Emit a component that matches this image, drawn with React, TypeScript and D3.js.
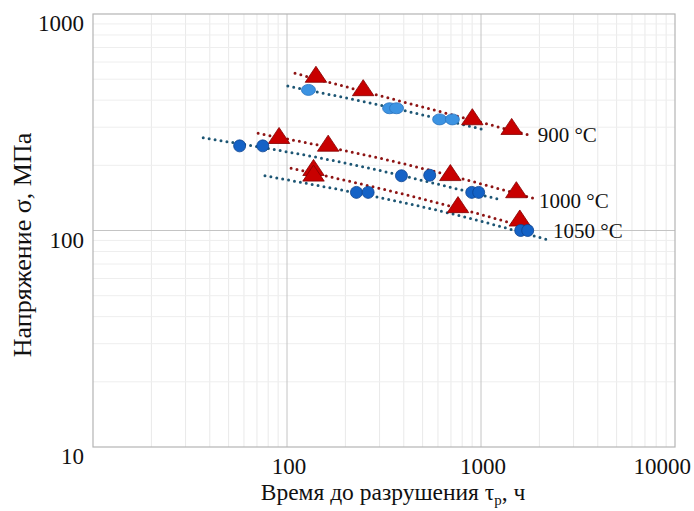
import { useEffect, useRef } from "react";
import * as d3 from "d3";

// Time to rupture (h) and stress (MPa)
const red900T = [141, 247, 902, 1439];
const red900S = [512, 444, 326, 294];
const blue900T = [129, 338, 367, 612, 712];
const blue900S = [446, 367, 367, 326, 326];

const red1000T = [91, 163, 695, 1521];
const red1000S = [267, 246, 180, 150];
const blue1000T = [57, 75, 389, 544, 896, 973];
const blue1000S = [246, 246, 179, 180, 150, 150];

const red1050T = [137, 137, 761, 1585];
const red1050S = [190, 179, 128, 111];
const blue1050T = [228, 262, 1602, 1741];
const blue1050S = [150, 150, 100, 100];

// dotted trend lines (start, middle, end)
const trend900RedT = [110, 483, 1767];
const trend900RedS = [532, 375, 276];
const trend900BlueT = [101, 360, 1054];
const trend900BlueS = [465, 366, 291];
const trend1000RedT = [71, 359, 1854];
const trend1000RedS = [281, 208, 141];
const trend1000BlueT = [37, 166, 1248];
const trend1000BlueS = [268, 212, 139];
const trend1050RedT = [105, 483, 1820];
const trend1050RedS = [194, 141, 102];
const trend1050BlueT = [77, 776, 2173];
const trend1050BlueS = [179, 117, 91];

const seriesLabels = ["900 °C", "1000 °C", "1050 °C"];
const labelT = [1960, 1991, 2350];
const labelS = [276, 138, 99.5];

const xTicks = [100, 1000, 10000];
const yTicks = [10, 100, 1000];

const W = 694;
const H = 511;
const FONT = "'Liberation Serif', 'Times New Roman', serif";

const zip = (t: number[], s: number[]) => t.map((v, i) => ({ t: v, s: s[i] }));

export default function App() {
  const ref = useRef<SVGSVGElement | null>(null);

  useEffect(() => {
    const svg = d3.select(ref.current);
    svg.selectAll("*").remove();

    const x = d3.scaleLog().domain([10, 10000]).range([93, 675]);
    const y = d3.scaleLog().domain([10, 1000]).range([447, 14]);

    svg.append("rect").attr("width", W).attr("height", H).attr("fill", "#fff");

    // minor grid
    const minorX: number[] = [];
    const minorY: number[] = [];
    [10, 100, 1000].forEach((d) => {
      for (let k = 2; k <= 9; k++) {
        minorX.push(d * k);
        if (d < 1000) minorY.push(d * k);
      }
    });
    const grid = svg.append("g");
    grid.selectAll("line.mx").data(minorX).join("line")
      .attr("x1", (d) => x(d)).attr("x2", (d) => x(d))
      .attr("y1", y(10)).attr("y2", y(1000))
      .attr("stroke", "#e9e9e9").attr("stroke-width", 1);
    grid.selectAll("line.my").data(minorY).join("line")
      .attr("x1", x(10)).attr("x2", x(10000))
      .attr("y1", (d) => y(d)).attr("y2", (d) => y(d))
      .attr("stroke", "#eeeeee").attr("stroke-width", 1);
    // major grid
    grid.selectAll("line.Mx").data([100, 1000]).join("line")
      .attr("x1", (d) => x(d)).attr("x2", (d) => x(d))
      .attr("y1", y(10)).attr("y2", y(1000))
      .attr("stroke", "#c4c4c4").attr("stroke-width", 1);
    grid.append("line")
      .attr("x1", x(10)).attr("x2", x(10000))
      .attr("y1", y(100)).attr("y2", y(100))
      .attr("stroke", "#c4c4c4").attr("stroke-width", 1);
    svg.append("rect")
      .attr("x", x(10)).attr("y", y(1000))
      .attr("width", x(10000) - x(10)).attr("height", y(10) - y(1000))
      .attr("fill", "none").attr("stroke", "#b4b4b4").attr("stroke-width", 1.2);

    // trend lines
    const line = d3.line<{ t: number; s: number }>()
      .x((d) => x(d.t)).y((d) => y(d.s))
      .curve(d3.curveMonotoneX);
    const trends = [
      { d: zip(trend900RedT, trend900RedS), c: "#8e1414" },
      { d: zip(trend900BlueT, trend900BlueS), c: "#1d5674" },
      { d: zip(trend1000RedT, trend1000RedS), c: "#8e1414" },
      { d: zip(trend1000BlueT, trend1000BlueS), c: "#1d5674" },
      { d: zip(trend1050RedT, trend1050RedS), c: "#8e1414" },
      { d: zip(trend1050BlueT, trend1050BlueS), c: "#1d5674" },
    ];
    trends.forEach((tr) => {
      svg.append("path")
        .datum(tr.d)
        .attr("d", line)
        .attr("fill", "none")
        .attr("stroke", tr.c)
        .attr("stroke-width", 3)
        .attr("stroke-linecap", "round")
        .attr("stroke-dasharray", "0,6");
    });

    // triangles
    const tri = d3.symbol().type(d3.symbolTriangle).size(165);
    const reds = [
      ...zip(red900T, red900S),
      ...zip(red1000T, red1000S),
      ...zip(red1050T, red1050S),
    ];
    svg.append("g").selectAll("path").data(reds).join("path")
      .attr("d", tri)
      .attr("transform", (d) => `translate(${x(d.t)},${y(d.s)}) scale(1.1,0.95)`)
      .attr("fill", "#c80000")
      .attr("stroke", "#860000")
      .attr("stroke-width", 0.8);

    // circles
    svg.append("g").selectAll("ellipse").data(zip(blue900T, blue900S)).join("ellipse")
      .attr("cx", (d) => x(d.t)).attr("cy", (d) => y(d.s))
      .attr("rx", 7).attr("ry", 5.5)
      .attr("fill", "#3c93e2")
      .attr("stroke", "#2a74bf")
      .attr("stroke-width", 0.8);
    const darkBlue = [...zip(blue1000T, blue1000S), ...zip(blue1050T, blue1050S)];
    svg.append("g").selectAll("circle").data(darkBlue).join("circle")
      .attr("cx", (d) => x(d.t)).attr("cy", (d) => y(d.s))
      .attr("r", 6)
      .attr("fill", "#1462c6")
      .attr("stroke", "#0c428f")
      .attr("stroke-width", 0.8);

    // series labels
    svg.append("g").selectAll("text").data(seriesLabels).join("text")
      .attr("x", (_, i) => x(labelT[i]))
      .attr("y", (_, i) => y(labelS[i]))
      .attr("dy", "0.35em")
      .attr("font-family", FONT)
      .attr("font-size", 21)
      .attr("fill", "#111")
      .text((d) => d);

    // tick labels (the last one is pulled inside the page, as in the reference)
    svg.append("g").selectAll("text").data(xTicks).join("text")
      .attr("x", (d, i) => (i === xTicks.length - 1 ? W - 3 : x(d) + 2))
      .attr("y", 474)
      .attr("text-anchor", (_, i) => (i === xTicks.length - 1 ? "end" : "middle"))
      .attr("font-family", FONT)
      .attr("font-size", 23)
      .attr("fill", "#111")
      .text((d) => String(d));
    svg.append("g").selectAll("text").data(yTicks).join("text")
      .attr("x", 84)
      .attr("y", (d) => y(d) + 9)
      .attr("dy", "0.35em")
      .attr("text-anchor", "end")
      .attr("font-family", FONT)
      .attr("font-size", 23)
      .attr("fill", "#111")
      .text((d) => String(d));

    // axis titles
    const xt = svg.append("text")
      .attr("x", 393)
      .attr("y", 500)
      .attr("text-anchor", "middle")
      .attr("font-family", FONT)
      .attr("font-size", 23.5)
      .attr("fill", "#111");
    xt.append("tspan").text("Время до разрушения τ");
    xt.append("tspan").attr("font-size", 15).attr("dy", 5).text("р");
    xt.append("tspan").attr("dy", -5).text(", ч");

    svg.append("text")
      .attr("transform", "translate(31,245) rotate(-90)")
      .attr("text-anchor", "middle")
      .attr("font-family", FONT)
      .attr("font-size", 26)
      .attr("fill", "#111")
      .text("Напряжение σ, МПа");
  }, []);

  return (
    <svg
      ref={ref}
      width={W}
      height={H}
      style={{ position: "absolute", left: 0, top: 0, display: "block" }}
    />
  );
}
